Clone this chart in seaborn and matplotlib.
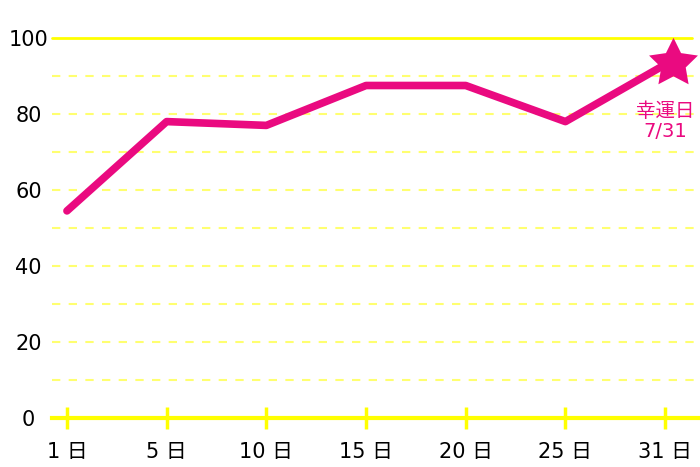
import numpy as np
import pandas as pd
import matplotlib.pyplot as plt
import seaborn as sns

sns.set_style("white")
plt.rcParams['font.family'] = ['DejaVu Sans', 'Noto Sans CJK JP']

# data
days = ['1', '5', '10', '15', '20', '25', '31']
scores = [54.5, 78, 77, 87.5, 87.5, 78, 93]
day_labels = [d + ' 日' for d in days]
y_ticks = [0, 20, 40, 60, 80, 100]
minor_grid = [10, 20, 30, 40, 50, 60, 70, 80, 90]

pink = '#EA0A80'
yellow = '#FFFF00'
light_yellow = '#FFFF70'

df = pd.DataFrame({'pos': np.arange(len(days)), 'score': scores})

fig = plt.figure(figsize=(7, 4.67), dpi=100)
ax = fig.add_axes([52 / 700, 49 / 467, 648 / 700, 380 / 467])

# grid
for g in minor_grid:
    ax.axhline(g, color=light_yellow, lw=1.5, ls=(0, (4, 4)), zorder=1)
ax.axhline(100, color=yellow, lw=2, xmax=640 / 648, zorder=1, clip_on=False)

sns.lineplot(data=df, x='pos', y='score', color=pink, lw=5.5, ax=ax,
             solid_capstyle='round', solid_joinstyle='round', zorder=3)
ax.lines[-1].set_clip_on(False)

# star on the lucky day
ax.plot(df['pos'].iloc[-1] + 0.08, df['score'].iloc[-1] + 0.3, marker=(5, 1, 0), ms=37,
        mew=0, color=pink, zorder=4, clip_on=False)
ax.annotate('幸運日\n7/31', (df['pos'].iloc[-1], df['score'].iloc[-1]),
            xytext=(0, -41), textcoords='offset points', ha='center', va='center',
            color=pink, fontsize=14, linespacing=1.05)

ax.set_xlim(-0.15, 6.35)
ax.set_ylim(0, 100)
ax.set_xticks(df['pos'])
ax.set_xticklabels(day_labels)
ax.set_yticks(y_ticks)
ax.set_xlabel('')
ax.set_ylabel('')

for s in ['top', 'right', 'left']:
    ax.spines[s].set_visible(False)
ax.spines['bottom'].set_color(yellow)
ax.spines['bottom'].set_linewidth(3)
ax.spines['bottom'].set_zorder(2)

ax.tick_params(axis='x', bottom=True, direction='inout', length=16, width=2.5,
               color=yellow, pad=9, labelsize=15, labelcolor='black')
ax.tick_params(axis='y', left=False, length=0, pad=17, labelsize=15, labelcolor='black')
for lab in ax.get_yticklabels():
    lab.set_horizontalalignment('center')

fig.savefig('out.png', dpi=100)
